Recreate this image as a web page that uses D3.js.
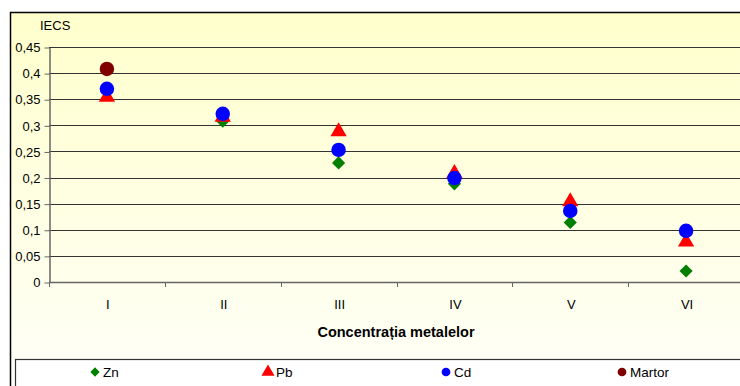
<!DOCTYPE html>
<html>
<head>
<meta charset="utf-8">
<script src="https://cdn.jsdelivr.net/npm/d3@7"></script>
<style>
  body { margin: 0; background: #fff; }
  svg { display: block; font-family: 'Liberation Sans', Arial, sans-serif; }
</style>
</head>
<body>
<div id="chart"></div>
<script>
// data
const categories = ['I', 'II', 'III', 'IV', 'V', 'VI']
const zn = [0.370, 0.308, 0.228, 0.188, 0.114, 0.021]
const pb = [0.354, 0.316, 0.288, 0.208, 0.154, 0.077]
const cd = [0.370, 0.322, 0.253, 0.199, 0.136, 0.098]
const martor = [0.408, null, null, null, null, null]
const yTicks = [0, 0.05, 0.1, 0.15, 0.2, 0.25, 0.3, 0.35, 0.4, 0.45]

const series = [
  { name: 'Zn', values: zn, color: '#007f00', shape: d3.symbolDiamond2 },
  { name: 'Pb', values: pb, color: '#ff0000', shape: d3.symbolTriangle },
  { name: 'Cd', values: cd, color: '#0000ff', shape: d3.symbolCircle },
  { name: 'Martor', values: martor, color: '#800000', shape: d3.symbolCircle }
]

const w = 740
const h = 386
const plotLeft = 49
const plotTop = 47
const plotBottom = 282
const plotRight = 744

const svg = d3.select('#chart')
  .append('svg')
  .attr('width', w)
  .attr('height', h)

const defs = svg.append('defs')
const grad = defs.append('linearGradient')
  .attr('id', 'bg')
  .attr('x1', 0).attr('y1', 0).attr('x2', 0).attr('y2', 1)
grad.append('stop').attr('offset', '0%').attr('stop-color', '#ffffcc')
grad.append('stop').attr('offset', '100%').attr('stop-color', '#fffffa')

// chart area
svg.append('rect')
  .attr('x', 10.5)
  .attr('y', 12.5)
  .attr('width', w)
  .attr('height', h)
  .attr('fill', 'url(#bg)')
  .attr('stroke', '#000')
  .attr('stroke-width', 1.5)

const xScale = d3.scaleBand()
  .domain(categories)
  .range([plotLeft, plotRight])

const yScale = d3.scaleLinear()
  .domain([0, 0.45])
  .range([plotBottom, plotTop])

const fmt = (d) => d3.format('.2~f')(d).replace('.', ',')

// gridlines
svg.append('g')
  .selectAll('line')
  .data(yTicks.slice(1))
  .enter()
  .append('line')
  .attr('x1', plotLeft)
  .attr('x2', w)
  .attr('y1', (d) => Math.round(yScale(d)) + 0.5)
  .attr('y2', (d) => Math.round(yScale(d)) + 0.5)
  .attr('stroke', '#333')
  .attr('stroke-width', 1.2)

const yAxis = d3.axisLeft(yScale)
  .tickValues(yTicks)
  .tickFormat(fmt)
  .tickSize(5)
  .tickSizeOuter(0)

const gy = svg.append('g')
  .attr('transform', 'translate(' + (plotLeft + 0.5) + ',0.5)')
  .call(yAxis)
gy.selectAll('text')
  .attr('font-size', 13)
  .attr('font-family', 'Liberation Sans, Arial, sans-serif')
  .attr('fill', '#000')
  .attr('x', -9)
gy.select('.domain').attr('stroke', '#666').attr('stroke-width', 1.5)
gy.selectAll('.tick line').attr('stroke', '#666')

// x axis: ticks between categories
const gx = svg.append('g')
gx.append('line')
  .attr('x1', plotLeft)
  .attr('x2', w)
  .attr('y1', plotBottom + 0.5)
  .attr('y2', plotBottom + 0.5)
  .attr('stroke', '#666')
  .attr('stroke-width', 1.5)
gx.selectAll('.sep')
  .data(categories)
  .enter()
  .append('line')
  .attr('x1', (d) => Math.round(xScale(d)) + 0.5)
  .attr('x2', (d) => Math.round(xScale(d)) + 0.5)
  .attr('y1', plotBottom)
  .attr('y2', plotBottom + 5)
  .attr('stroke', '#666')
gx.selectAll('text')
  .data(categories)
  .enter()
  .append('text')
  .attr('x', (d) => xScale(d) + xScale.bandwidth() / 2 + 1)
  .attr('y', 309)
  .attr('text-anchor', 'middle')
  .attr('font-size', 13)
  .text((d) => d)

svg.append('text')
  .attr('x', 40)
  .attr('y', 30)
  .attr('font-size', 13)
  .text('IECS')

svg.append('text')
  .attr('x', 396)
  .attr('y', 337)
  .attr('text-anchor', 'middle')
  .attr('font-size', 14.5)
  .attr('font-weight', 'bold')
  .text('Concentrația metalelor')

// points
const sizes = { 'Zn': 110, 'Pb': 115, 'Cd': 165, 'Martor': 165 }
series.forEach((s) => {
  svg.append('g')
    .selectAll('path')
    .data(s.values.map((v, i) => [categories[i], v]).filter((d) => d[1] !== null))
    .enter()
    .append('path')
    .attr('d', d3.symbol().type(s.shape).size(sizes[s.name]))
    .attr('transform', (d) => 'translate(' + (xScale(d[0]) + xScale.bandwidth() / 2) + ',' + yScale(d[1]) + ')')
    .attr('fill', s.color)
})

// legend
svg.append('rect')
  .attr('x', 15.5)
  .attr('y', 359.5)
  .attr('width', w)
  .attr('height', 60)
  .attr('fill', '#fff')
  .attr('stroke', '#333')
  .attr('stroke-width', 1.2)

const legendX = [95, 268, 446, 622]
const lg = svg.append('g')
  .selectAll('g')
  .data(series)
  .enter()
  .append('g')
  .attr('transform', (d, i) => 'translate(' + legendX[i] + ',372)')
lg.append('path')
  .attr('d', (d) => d3.symbol().type(d.shape).size(d.name === 'Zn' ? 55 : d.name === 'Pb' ? 75 : 60)())
  .attr('fill', (d) => d.color)
lg.append('text')
  .attr('x', 8)
  .attr('y', 5)
  .attr('font-size', 13.5)
  .text((d) => d.name)
</script>
</body>
</html>
